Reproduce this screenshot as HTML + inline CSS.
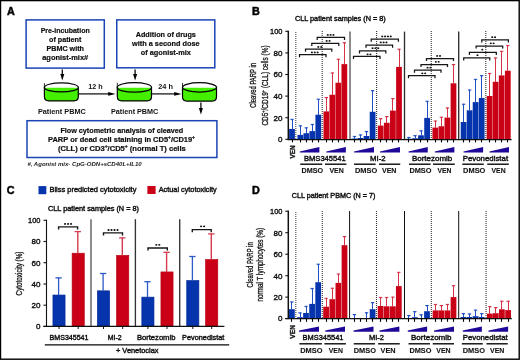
<!DOCTYPE html>
<html><head><meta charset="utf-8"><style>
html,body{margin:0;padding:0;background:#fff;}
svg{display:block;font-family:'Liberation Sans', sans-serif;will-change:transform;}
</style></head><body>
<svg width="520" height="360" viewBox="0 0 520 360">
<rect x="0" y="0" width="520" height="360" fill="#fff"/>
<text x="6.90" y="15.20" font-size="10.8" text-anchor="start" font-weight="bold" fill="#000" stroke="#000" stroke-width="0.45">A</text>
<rect x="26.1" y="19.9" width="78.20" height="48.20" fill="none" stroke="#1a44b4" stroke-width="1.5"/>
<rect x="116.75" y="19.9" width="98.05" height="47.90" fill="none" stroke="#1a44b4" stroke-width="1.5"/>
<rect x="27" y="120.7" width="189.90" height="36.80" fill="none" stroke="#1a44b4" stroke-width="1.5"/>
<text x="65.20" y="32.80" font-size="7.0" text-anchor="middle" font-weight="bold" fill="#111" textLength="49.00" lengthAdjust="spacingAndGlyphs" stroke="#111" stroke-width="0.2">Pre-incubation</text>
<text x="65.20" y="41.90" font-size="7.0" text-anchor="middle" font-weight="bold" fill="#111" textLength="32.20" lengthAdjust="spacingAndGlyphs" stroke="#111" stroke-width="0.2">of patient</text>
<text x="65.20" y="51.00" font-size="7.0" text-anchor="middle" font-weight="bold" fill="#111" textLength="37.50" lengthAdjust="spacingAndGlyphs" stroke="#111" stroke-width="0.2">PBMC with</text>
<text x="65.20" y="60.10" font-size="7.0" text-anchor="middle" font-weight="bold" fill="#111" textLength="46.00" lengthAdjust="spacingAndGlyphs" stroke="#111" stroke-width="0.2">agonist-mix#</text>
<text x="165.80" y="36.80" font-size="7.0" text-anchor="middle" font-weight="bold" fill="#111" textLength="60.20" lengthAdjust="spacingAndGlyphs" stroke="#111" stroke-width="0.2">Addition of drugs</text>
<text x="165.80" y="45.80" font-size="7.0" text-anchor="middle" font-weight="bold" fill="#111" textLength="67.50" lengthAdjust="spacingAndGlyphs" stroke="#111" stroke-width="0.2">with a second dose</text>
<text x="165.80" y="54.80" font-size="7.0" text-anchor="middle" font-weight="bold" fill="#111" textLength="50.10" lengthAdjust="spacingAndGlyphs" stroke="#111" stroke-width="0.2">of agonist-mix</text>
<text x="121.80" y="132.50" font-size="7.0" text-anchor="middle" font-weight="bold" fill="#111" textLength="122.80" lengthAdjust="spacingAndGlyphs" stroke="#111" stroke-width="0.2">Flow cytometric analysis of cleaved</text>
<text x="121.5" y="141.5" font-size="7" text-anchor="middle" font-weight="bold" fill="#111" stroke="#111" stroke-width="0.2" textLength="146.9" lengthAdjust="spacingAndGlyphs">PARP or dead cell staining in CD5<tspan font-size="4.6" dy="-2.6">+</tspan><tspan dy="2.6">/CD19</tspan><tspan font-size="4.6" dy="-2.6">+</tspan></text>
<text x="121.9" y="150.5" font-size="7" text-anchor="middle" font-weight="bold" fill="#111" stroke="#111" stroke-width="0.2" textLength="127.8" lengthAdjust="spacingAndGlyphs">(CLL) or CD3<tspan font-size="4.6" dy="-2.6">+</tspan><tspan dy="2.6">/CD5</tspan><tspan font-size="4.6" dy="-2.6">+</tspan><tspan dy="2.6"> (normal T) cells</tspan></text>
<text x="27.40" y="166.00" font-size="5.6" text-anchor="start" font-weight="bold" font-style="italic" fill="#1a1a1a" textLength="114.30" lengthAdjust="spacingAndGlyphs">#, Agonist mix- CpG-ODN+sCD40L+IL10</text>
<path d="M44.40,87.45 L44.40,96.60 Q44.40,100.90 48.70,100.90 L74.00,100.90 Q78.30,100.90 78.30,96.60 L78.30,87.45 Z" fill="#44f000" stroke="#000" stroke-width="1.2"/>
<ellipse cx="61.35" cy="87.45" rx="16.95" ry="4.55" fill="#fff" stroke="none"/>
<path d="M44.40,87.75 A16.95,4.55 0 0 0 78.30,87.75 Z" fill="#44f000"/>
<ellipse cx="61.35" cy="87.45" rx="16.95" ry="4.55" fill="none" stroke="#000" stroke-width="1.25"/>
<line x1="44.40" y1="83.10" x2="44.40" y2="87.45" stroke="#000" stroke-width="0.8"/>
<path d="M117.30,87.40 L117.30,96.60 Q117.30,100.90 121.60,100.90 L147.20,100.90 Q151.50,100.90 151.50,96.60 L151.50,87.40 Z" fill="#44f000" stroke="#000" stroke-width="1.2"/>
<ellipse cx="134.40" cy="87.40" rx="17.10" ry="4.80" fill="#fff" stroke="none"/>
<path d="M117.30,87.70 A17.10,4.80 0 0 0 151.50,87.70 Z" fill="#44f000"/>
<ellipse cx="134.40" cy="87.40" rx="17.10" ry="4.80" fill="none" stroke="#000" stroke-width="1.25"/>
<line x1="117.30" y1="82.80" x2="117.30" y2="87.40" stroke="#000" stroke-width="0.8"/>
<path d="M182.50,87.35 L182.50,96.80 Q182.50,101.10 186.80,101.10 L212.20,101.10 Q216.50,101.10 216.50,96.80 L216.50,87.35 Z" fill="#44f000" stroke="#000" stroke-width="1.2"/>
<ellipse cx="199.50" cy="87.35" rx="17.00" ry="4.65" fill="#fff" stroke="none"/>
<path d="M182.50,87.65 A17.00,4.65 0 0 0 216.50,87.65 Z" fill="#44f000"/>
<ellipse cx="199.50" cy="87.35" rx="17.00" ry="4.65" fill="none" stroke="#000" stroke-width="1.25"/>
<line x1="182.50" y1="82.90" x2="182.50" y2="87.35" stroke="#000" stroke-width="0.8"/>
<line x1="78.80" y1="93.90" x2="109.60" y2="93.90" stroke="#1a1a1a" stroke-width="1.3"/>
<path d="M108.20,92.00 L115.60,93.90 L108.20,95.80 Z" fill="#000"/>
<line x1="152.00" y1="93.90" x2="175.60" y2="93.90" stroke="#1a1a1a" stroke-width="1.3"/>
<path d="M174.20,92.00 L181.60,93.90 L174.20,95.80 Z" fill="#000"/>
<line x1="62.30" y1="69.40" x2="62.30" y2="76.60" stroke="#0a0a0a" stroke-width="1.3"/>
<path d="M60.30,74.00 L62.30,80.60 L64.30,74.00 Z" fill="#000"/>
<line x1="135.10" y1="69.40" x2="135.10" y2="76.60" stroke="#0a0a0a" stroke-width="1.3"/>
<path d="M133.10,74.00 L135.10,80.60 L137.10,74.00 Z" fill="#000"/>
<line x1="200.90" y1="102.50" x2="200.90" y2="110.60" stroke="#0a0a0a" stroke-width="1.3"/>
<path d="M198.90,108.00 L200.90,114.60 L202.90,108.00 Z" fill="#000"/>
<text x="88.30" y="88.90" font-size="6.9" text-anchor="start" font-weight="bold" fill="#111" textLength="14.40" lengthAdjust="spacingAndGlyphs">12 h</text>
<text x="158.20" y="88.90" font-size="6.9" text-anchor="start" font-weight="bold" fill="#111" textLength="14.80" lengthAdjust="spacingAndGlyphs">24 h</text>
<text x="37.90" y="114.40" font-size="7.2" text-anchor="start" font-weight="bold" fill="#111" textLength="47.90" lengthAdjust="spacingAndGlyphs">Patient PBMC</text>
<text x="111.00" y="114.40" font-size="7.2" text-anchor="start" font-weight="bold" fill="#111" textLength="47.30" lengthAdjust="spacingAndGlyphs">Patient PBMC</text>
<text x="251.90" y="15.40" font-size="10.8" text-anchor="start" font-weight="bold" fill="#000" stroke="#000" stroke-width="0.45">B</text>
<text x="294.90" y="20.90" font-size="6.6" text-anchor="start" fill="#111" textLength="90.90" lengthAdjust="spacingAndGlyphs" stroke="#111" stroke-width="0.38">CLL patient samples (N = 8)</text>
<text transform="translate(256.30,85.35) rotate(-90)" font-size="8.4" text-anchor="middle" fill="#111" textLength="44.60" lengthAdjust="spacingAndGlyphs" stroke="#111" stroke-width="0.3">Cleaved PARP in</text>
<text transform="translate(267.60,85.50) rotate(-90)" font-size="8.4" text-anchor="middle" fill="#111" textLength="80.20" lengthAdjust="spacingAndGlyphs" stroke="#111" stroke-width="0.3">CD5<tspan font-size="4.96" dy="-2.96">+</tspan><tspan dy="2.96">/CD19<tspan font-size="4.96" dy="-2.96">+</tspan><tspan dy="2.96"> (CLL) cells (%)</tspan></tspan></text>
<line x1="295.80" y1="32.00" x2="295.80" y2="139.00" stroke="#4a4a4a" stroke-width="1.1" stroke-dasharray="1 1"/>
<line x1="322.20" y1="31.00" x2="322.20" y2="139.00" stroke="#333" stroke-width="1.1" stroke-dasharray="1 1"/>
<line x1="376.60" y1="31.00" x2="376.60" y2="139.00" stroke="#333" stroke-width="1.1" stroke-dasharray="1 1"/>
<line x1="431.25" y1="31.00" x2="431.25" y2="139.00" stroke="#333" stroke-width="1.1" stroke-dasharray="1 1"/>
<line x1="485.80" y1="31.00" x2="485.80" y2="139.00" stroke="#333" stroke-width="1.1" stroke-dasharray="1 1"/>
<line x1="350.00" y1="31.60" x2="350.00" y2="139.30" stroke="#555" stroke-width="1.35"/>
<line x1="404.50" y1="31.60" x2="404.50" y2="139.30" stroke="#2e2e2e" stroke-width="1.35"/>
<line x1="458.70" y1="31.60" x2="458.70" y2="139.30" stroke="#2e2e2e" stroke-width="1.35"/>
<rect x="289.12" y="129.00" width="5.75" height="10.30" fill="#0534ad"/>
<line x1="292.50" y1="119.00" x2="292.50" y2="129.30" stroke="#2050c4" stroke-width="1.0"/>
<line x1="290.30" y1="119.30" x2="293.70" y2="119.30" stroke="#2050c4" stroke-width="1.0"/>
<path d="M290.70,119.70 L293.30,119.70 L292.50,120.80 Z" fill="#2050c4"/>
<rect x="297.43" y="134.90" width="5.75" height="4.40" fill="#0534ad"/>
<line x1="300.50" y1="125.50" x2="300.50" y2="135.20" stroke="#2050c4" stroke-width="1.0"/>
<line x1="298.60" y1="125.80" x2="302.00" y2="125.80" stroke="#2050c4" stroke-width="1.0"/>
<path d="M299.00,126.20 L301.60,126.20 L300.50,127.30 Z" fill="#2050c4"/>
<rect x="303.43" y="133.20" width="5.75" height="6.10" fill="#0534ad"/>
<line x1="306.50" y1="127.50" x2="306.50" y2="133.50" stroke="#2050c4" stroke-width="1.0"/>
<line x1="304.60" y1="127.80" x2="308.00" y2="127.80" stroke="#2050c4" stroke-width="1.0"/>
<path d="M305.00,128.20 L307.60,128.20 L306.50,129.30 Z" fill="#2050c4"/>
<rect x="309.43" y="131.10" width="5.75" height="8.20" fill="#0534ad"/>
<line x1="312.50" y1="124.10" x2="312.50" y2="131.40" stroke="#2050c4" stroke-width="1.0"/>
<line x1="310.60" y1="124.40" x2="314.00" y2="124.40" stroke="#2050c4" stroke-width="1.0"/>
<path d="M311.00,124.80 L313.60,124.80 L312.50,125.90 Z" fill="#2050c4"/>
<rect x="315.43" y="114.70" width="5.75" height="24.60" fill="#0534ad"/>
<line x1="318.50" y1="98.90" x2="318.50" y2="115.00" stroke="#2050c4" stroke-width="1.0"/>
<line x1="316.60" y1="99.20" x2="320.00" y2="99.20" stroke="#2050c4" stroke-width="1.0"/>
<path d="M317.00,99.60 L319.60,99.60 L318.50,100.70 Z" fill="#2050c4"/>
<rect x="351.62" y="138.50" width="5.75" height="0.80" fill="#0534ad"/>
<line x1="354.50" y1="136.10" x2="354.50" y2="138.80" stroke="#2050c4" stroke-width="1.0"/>
<line x1="352.80" y1="136.40" x2="356.20" y2="136.40" stroke="#2050c4" stroke-width="1.0"/>
<path d="M353.20,136.80 L355.80,136.80 L354.50,137.90 Z" fill="#2050c4"/>
<rect x="357.62" y="138.00" width="5.75" height="1.30" fill="#0534ad"/>
<line x1="360.50" y1="134.60" x2="360.50" y2="138.30" stroke="#2050c4" stroke-width="1.0"/>
<line x1="358.80" y1="134.90" x2="362.20" y2="134.90" stroke="#2050c4" stroke-width="1.0"/>
<path d="M359.20,135.30 L361.80,135.30 L360.50,136.40 Z" fill="#2050c4"/>
<rect x="363.62" y="136.00" width="5.75" height="3.30" fill="#0534ad"/>
<line x1="366.50" y1="131.20" x2="366.50" y2="136.30" stroke="#2050c4" stroke-width="1.0"/>
<line x1="364.80" y1="131.50" x2="368.20" y2="131.50" stroke="#2050c4" stroke-width="1.0"/>
<path d="M365.20,131.90 L367.80,131.90 L366.50,133.00 Z" fill="#2050c4"/>
<rect x="369.73" y="111.80" width="5.75" height="27.50" fill="#0534ad"/>
<line x1="372.50" y1="90.30" x2="372.50" y2="112.10" stroke="#2050c4" stroke-width="1.0"/>
<line x1="370.90" y1="90.60" x2="374.30" y2="90.60" stroke="#2050c4" stroke-width="1.0"/>
<path d="M371.30,91.00 L373.90,91.00 L372.50,92.10 Z" fill="#2050c4"/>
<rect x="406.02" y="138.75" width="5.75" height="0.55" fill="#0534ad"/>
<line x1="408.50" y1="137.10" x2="408.50" y2="139.05" stroke="#2050c4" stroke-width="1.0"/>
<line x1="407.20" y1="137.40" x2="410.60" y2="137.40" stroke="#2050c4" stroke-width="1.0"/>
<path d="M407.60,137.80 L410.20,137.80 L408.50,138.90 Z" fill="#2050c4"/>
<rect x="412.12" y="138.30" width="5.75" height="1.00" fill="#0534ad"/>
<line x1="415.50" y1="135.30" x2="415.50" y2="138.60" stroke="#2050c4" stroke-width="1.0"/>
<line x1="413.30" y1="135.60" x2="416.70" y2="135.60" stroke="#2050c4" stroke-width="1.0"/>
<path d="M413.70,136.00 L416.30,136.00 L415.50,137.10 Z" fill="#2050c4"/>
<rect x="418.12" y="135.30" width="5.75" height="4.00" fill="#0534ad"/>
<line x1="421.50" y1="130.50" x2="421.50" y2="135.60" stroke="#2050c4" stroke-width="1.0"/>
<line x1="419.30" y1="130.80" x2="422.70" y2="130.80" stroke="#2050c4" stroke-width="1.0"/>
<path d="M419.70,131.20 L422.30,131.20 L421.50,132.30 Z" fill="#2050c4"/>
<rect x="424.23" y="117.90" width="5.75" height="21.40" fill="#0534ad"/>
<line x1="427.50" y1="100.95" x2="427.50" y2="118.20" stroke="#2050c4" stroke-width="1.0"/>
<line x1="425.40" y1="101.25" x2="428.80" y2="101.25" stroke="#2050c4" stroke-width="1.0"/>
<path d="M425.80,101.65 L428.40,101.65 L427.50,102.75 Z" fill="#2050c4"/>
<rect x="460.73" y="122.00" width="5.75" height="17.30" fill="#0534ad"/>
<line x1="463.50" y1="103.90" x2="463.50" y2="122.30" stroke="#2050c4" stroke-width="1.0"/>
<line x1="461.90" y1="104.20" x2="465.30" y2="104.20" stroke="#2050c4" stroke-width="1.0"/>
<path d="M462.30,104.60 L464.90,104.60 L463.50,105.70 Z" fill="#2050c4"/>
<rect x="466.73" y="110.30" width="5.75" height="29.00" fill="#0534ad"/>
<line x1="469.50" y1="89.70" x2="469.50" y2="110.60" stroke="#2050c4" stroke-width="1.0"/>
<line x1="467.90" y1="90.00" x2="471.30" y2="90.00" stroke="#2050c4" stroke-width="1.0"/>
<path d="M468.30,90.40 L470.90,90.40 L469.50,91.50 Z" fill="#2050c4"/>
<rect x="472.73" y="102.10" width="5.75" height="37.20" fill="#0534ad"/>
<line x1="475.50" y1="79.00" x2="475.50" y2="102.40" stroke="#2050c4" stroke-width="1.0"/>
<line x1="473.90" y1="79.30" x2="477.30" y2="79.30" stroke="#2050c4" stroke-width="1.0"/>
<path d="M474.30,79.70 L476.90,79.70 L475.50,80.80 Z" fill="#2050c4"/>
<rect x="478.82" y="98.00" width="5.75" height="41.30" fill="#0534ad"/>
<line x1="481.50" y1="75.30" x2="481.50" y2="98.30" stroke="#2050c4" stroke-width="1.0"/>
<line x1="480.00" y1="75.60" x2="483.40" y2="75.60" stroke="#2050c4" stroke-width="1.0"/>
<path d="M480.40,76.00 L483.00,76.00 L481.50,77.10 Z" fill="#2050c4"/>
<rect x="323.48" y="111.40" width="5.75" height="27.90" fill="#c90016"/>
<line x1="326.50" y1="97.20" x2="326.50" y2="111.70" stroke="#d43446" stroke-width="1.0"/>
<line x1="324.65" y1="97.50" x2="328.05" y2="97.50" stroke="#d43446" stroke-width="1.0"/>
<path d="M325.05,97.90 L327.65,97.90 L326.50,99.00 Z" fill="#d43446"/>
<rect x="329.48" y="94.75" width="5.75" height="44.55" fill="#c90016"/>
<line x1="332.50" y1="72.60" x2="332.50" y2="95.05" stroke="#d43446" stroke-width="1.0"/>
<line x1="330.65" y1="72.90" x2="334.05" y2="72.90" stroke="#d43446" stroke-width="1.0"/>
<path d="M331.05,73.30 L333.65,73.30 L332.50,74.40 Z" fill="#d43446"/>
<rect x="335.48" y="82.75" width="5.75" height="56.55" fill="#c90016"/>
<line x1="338.50" y1="58.90" x2="338.50" y2="83.05" stroke="#d43446" stroke-width="1.0"/>
<line x1="336.65" y1="59.20" x2="340.05" y2="59.20" stroke="#d43446" stroke-width="1.0"/>
<path d="M337.05,59.60 L339.65,59.60 L338.50,60.70 Z" fill="#d43446"/>
<rect x="341.48" y="64.10" width="5.75" height="75.20" fill="#c90016"/>
<line x1="344.50" y1="42.40" x2="344.50" y2="64.40" stroke="#d43446" stroke-width="1.0"/>
<line x1="342.65" y1="42.70" x2="346.05" y2="42.70" stroke="#d43446" stroke-width="1.0"/>
<path d="M343.05,43.10 L345.65,43.10 L344.50,44.20 Z" fill="#d43446"/>
<rect x="377.82" y="125.60" width="5.75" height="13.70" fill="#c90016"/>
<line x1="380.50" y1="118.30" x2="380.50" y2="125.90" stroke="#d43446" stroke-width="1.0"/>
<line x1="379.00" y1="118.60" x2="382.40" y2="118.60" stroke="#d43446" stroke-width="1.0"/>
<path d="M379.40,119.00 L382.00,119.00 L380.50,120.10 Z" fill="#d43446"/>
<rect x="383.93" y="122.80" width="5.75" height="16.50" fill="#c90016"/>
<line x1="386.50" y1="116.20" x2="386.50" y2="123.10" stroke="#d43446" stroke-width="1.0"/>
<line x1="385.10" y1="116.50" x2="388.50" y2="116.50" stroke="#d43446" stroke-width="1.0"/>
<path d="M385.50,116.90 L388.10,116.90 L386.50,118.00 Z" fill="#d43446"/>
<rect x="390.02" y="110.60" width="5.75" height="28.70" fill="#c90016"/>
<line x1="392.50" y1="98.20" x2="392.50" y2="110.90" stroke="#d43446" stroke-width="1.0"/>
<line x1="391.20" y1="98.50" x2="394.60" y2="98.50" stroke="#d43446" stroke-width="1.0"/>
<path d="M391.60,98.90 L394.20,98.90 L392.50,100.00 Z" fill="#d43446"/>
<rect x="396.12" y="66.90" width="5.75" height="72.40" fill="#c90016"/>
<line x1="399.50" y1="48.90" x2="399.50" y2="67.20" stroke="#d43446" stroke-width="1.0"/>
<line x1="397.30" y1="49.20" x2="400.70" y2="49.20" stroke="#d43446" stroke-width="1.0"/>
<path d="M397.70,49.60 L400.30,49.60 L399.50,50.70 Z" fill="#d43446"/>
<rect x="432.43" y="127.60" width="5.75" height="11.70" fill="#c90016"/>
<line x1="435.50" y1="120.70" x2="435.50" y2="127.90" stroke="#d43446" stroke-width="1.0"/>
<line x1="433.60" y1="121.00" x2="437.00" y2="121.00" stroke="#d43446" stroke-width="1.0"/>
<path d="M434.00,121.40 L436.60,121.40 L435.50,122.50 Z" fill="#d43446"/>
<rect x="438.52" y="126.25" width="5.75" height="13.05" fill="#c90016"/>
<line x1="441.50" y1="116.90" x2="441.50" y2="126.55" stroke="#d43446" stroke-width="1.0"/>
<line x1="439.70" y1="117.20" x2="443.10" y2="117.20" stroke="#d43446" stroke-width="1.0"/>
<path d="M440.10,117.60 L442.70,117.60 L441.50,118.70 Z" fill="#d43446"/>
<rect x="444.52" y="117.60" width="5.75" height="21.70" fill="#c90016"/>
<line x1="447.50" y1="107.60" x2="447.50" y2="117.90" stroke="#d43446" stroke-width="1.0"/>
<line x1="445.70" y1="107.90" x2="449.10" y2="107.90" stroke="#d43446" stroke-width="1.0"/>
<path d="M446.10,108.30 L448.70,108.30 L447.50,109.40 Z" fill="#d43446"/>
<rect x="450.62" y="83.30" width="5.75" height="56.00" fill="#c90016"/>
<line x1="453.50" y1="64.20" x2="453.50" y2="83.60" stroke="#d43446" stroke-width="1.0"/>
<line x1="451.80" y1="64.50" x2="455.20" y2="64.50" stroke="#d43446" stroke-width="1.0"/>
<path d="M452.20,64.90 L454.80,64.90 L453.50,66.00 Z" fill="#d43446"/>
<rect x="486.73" y="96.00" width="5.75" height="43.30" fill="#c90016"/>
<line x1="489.50" y1="73.10" x2="489.50" y2="96.30" stroke="#d43446" stroke-width="1.0"/>
<line x1="487.90" y1="73.40" x2="491.30" y2="73.40" stroke="#d43446" stroke-width="1.0"/>
<path d="M488.30,73.80 L490.90,73.80 L489.50,74.90 Z" fill="#d43446"/>
<rect x="492.73" y="81.80" width="5.75" height="57.50" fill="#c90016"/>
<line x1="495.50" y1="57.60" x2="495.50" y2="82.10" stroke="#d43446" stroke-width="1.0"/>
<line x1="493.90" y1="57.90" x2="497.30" y2="57.90" stroke="#d43446" stroke-width="1.0"/>
<path d="M494.30,58.30 L496.90,58.30 L495.50,59.40 Z" fill="#d43446"/>
<rect x="498.82" y="75.40" width="5.75" height="63.90" fill="#c90016"/>
<line x1="501.50" y1="51.00" x2="501.50" y2="75.70" stroke="#d43446" stroke-width="1.0"/>
<line x1="500.00" y1="51.30" x2="503.40" y2="51.30" stroke="#d43446" stroke-width="1.0"/>
<path d="M500.40,51.70 L503.00,51.70 L501.50,52.80 Z" fill="#d43446"/>
<rect x="504.93" y="70.70" width="5.75" height="68.60" fill="#c90016"/>
<line x1="507.50" y1="45.10" x2="507.50" y2="71.00" stroke="#d43446" stroke-width="1.0"/>
<line x1="506.10" y1="45.40" x2="509.50" y2="45.40" stroke="#d43446" stroke-width="1.0"/>
<path d="M506.50,45.80 L509.10,45.80 L507.50,46.90 Z" fill="#d43446"/>
<line x1="288.30" y1="30.70" x2="288.30" y2="139.90" stroke="#111" stroke-width="1.5"/>
<line x1="285.30" y1="31.30" x2="288.30" y2="31.30" stroke="#111" stroke-width="1.1"/>
<text x="282.40" y="34.16" font-size="8.0" text-anchor="end" fill="#111" textLength="12.40" lengthAdjust="spacingAndGlyphs" stroke="#111" stroke-width="0.38">100</text>
<line x1="285.30" y1="52.90" x2="288.30" y2="52.90" stroke="#111" stroke-width="1.1"/>
<text x="282.40" y="55.76" font-size="8.0" text-anchor="end" fill="#111" stroke="#111" stroke-width="0.38">80</text>
<line x1="285.30" y1="74.50" x2="288.30" y2="74.50" stroke="#111" stroke-width="1.1"/>
<text x="282.40" y="77.36" font-size="8.0" text-anchor="end" fill="#111" stroke="#111" stroke-width="0.38">60</text>
<line x1="285.30" y1="96.10" x2="288.30" y2="96.10" stroke="#111" stroke-width="1.1"/>
<text x="282.40" y="98.96" font-size="8.0" text-anchor="end" fill="#111" stroke="#111" stroke-width="0.38">40</text>
<line x1="285.30" y1="117.70" x2="288.30" y2="117.70" stroke="#111" stroke-width="1.1"/>
<text x="282.40" y="120.56" font-size="8.0" text-anchor="end" fill="#111" stroke="#111" stroke-width="0.38">20</text>
<line x1="285.30" y1="139.30" x2="288.30" y2="139.30" stroke="#111" stroke-width="1.1"/>
<text x="282.40" y="142.16" font-size="8.0" text-anchor="end" fill="#111" stroke="#111" stroke-width="0.38">0</text>
<line x1="287.40" y1="139.70" x2="511.60" y2="139.70" stroke="#111" stroke-width="1.3"/>
<line x1="292.50" y1="139.70" x2="292.50" y2="142.40" stroke="#000" stroke-width="1.1"/>
<line x1="300.50" y1="139.70" x2="300.50" y2="142.40" stroke="#000" stroke-width="1.1"/>
<line x1="306.50" y1="139.70" x2="306.50" y2="142.40" stroke="#000" stroke-width="1.1"/>
<line x1="312.50" y1="139.70" x2="312.50" y2="142.40" stroke="#000" stroke-width="1.1"/>
<line x1="318.50" y1="139.70" x2="318.50" y2="142.40" stroke="#000" stroke-width="1.1"/>
<line x1="354.50" y1="139.70" x2="354.50" y2="142.40" stroke="#000" stroke-width="1.1"/>
<line x1="360.50" y1="139.70" x2="360.50" y2="142.40" stroke="#000" stroke-width="1.1"/>
<line x1="366.50" y1="139.70" x2="366.50" y2="142.40" stroke="#000" stroke-width="1.1"/>
<line x1="372.50" y1="139.70" x2="372.50" y2="142.40" stroke="#000" stroke-width="1.1"/>
<line x1="408.50" y1="139.70" x2="408.50" y2="142.40" stroke="#000" stroke-width="1.1"/>
<line x1="414.50" y1="139.70" x2="414.50" y2="142.40" stroke="#000" stroke-width="1.1"/>
<line x1="420.50" y1="139.70" x2="420.50" y2="142.40" stroke="#000" stroke-width="1.1"/>
<line x1="427.50" y1="139.70" x2="427.50" y2="142.40" stroke="#000" stroke-width="1.1"/>
<line x1="463.50" y1="139.70" x2="463.50" y2="142.40" stroke="#000" stroke-width="1.1"/>
<line x1="469.50" y1="139.70" x2="469.50" y2="142.40" stroke="#000" stroke-width="1.1"/>
<line x1="475.50" y1="139.70" x2="475.50" y2="142.40" stroke="#000" stroke-width="1.1"/>
<line x1="481.50" y1="139.70" x2="481.50" y2="142.40" stroke="#000" stroke-width="1.1"/>
<line x1="326.50" y1="139.70" x2="326.50" y2="142.40" stroke="#000" stroke-width="1.1"/>
<line x1="332.50" y1="139.70" x2="332.50" y2="142.40" stroke="#000" stroke-width="1.1"/>
<line x1="338.50" y1="139.70" x2="338.50" y2="142.40" stroke="#000" stroke-width="1.1"/>
<line x1="344.50" y1="139.70" x2="344.50" y2="142.40" stroke="#000" stroke-width="1.1"/>
<line x1="380.50" y1="139.70" x2="380.50" y2="142.40" stroke="#000" stroke-width="1.1"/>
<line x1="386.50" y1="139.70" x2="386.50" y2="142.40" stroke="#000" stroke-width="1.1"/>
<line x1="392.50" y1="139.70" x2="392.50" y2="142.40" stroke="#000" stroke-width="1.1"/>
<line x1="398.50" y1="139.70" x2="398.50" y2="142.40" stroke="#000" stroke-width="1.1"/>
<line x1="435.50" y1="139.70" x2="435.50" y2="142.40" stroke="#000" stroke-width="1.1"/>
<line x1="441.50" y1="139.70" x2="441.50" y2="142.40" stroke="#000" stroke-width="1.1"/>
<line x1="447.50" y1="139.70" x2="447.50" y2="142.40" stroke="#000" stroke-width="1.1"/>
<line x1="453.50" y1="139.70" x2="453.50" y2="142.40" stroke="#000" stroke-width="1.1"/>
<line x1="489.50" y1="139.70" x2="489.50" y2="142.40" stroke="#000" stroke-width="1.1"/>
<line x1="495.50" y1="139.70" x2="495.50" y2="142.40" stroke="#000" stroke-width="1.1"/>
<line x1="501.50" y1="139.70" x2="501.50" y2="142.40" stroke="#000" stroke-width="1.1"/>
<line x1="507.50" y1="139.70" x2="507.50" y2="142.40" stroke="#000" stroke-width="1.1"/>
<path d="M299.50,57.20 L299.50,54.60 L326.00,54.60 L326.00,57.20" fill="none" stroke="#161616" stroke-width="1.25"/>
<ellipse cx="311.90" cy="52.40" rx="1.05" ry="0.88" fill="#111"/>
<ellipse cx="314.75" cy="52.40" rx="1.05" ry="0.88" fill="#111"/>
<ellipse cx="317.60" cy="52.40" rx="1.05" ry="0.88" fill="#111"/>
<path d="M305.50,51.70 L305.50,49.10 L331.80,49.10 L331.80,51.70" fill="none" stroke="#161616" stroke-width="1.25"/>
<ellipse cx="318.32" cy="46.90" rx="1.05" ry="0.88" fill="#111"/>
<ellipse cx="321.18" cy="46.90" rx="1.05" ry="0.88" fill="#111"/>
<path d="M311.80,45.90 L311.80,43.30 L338.80,43.30 L338.80,45.90" fill="none" stroke="#161616" stroke-width="1.25"/>
<ellipse cx="326.68" cy="40.90" rx="1.05" ry="0.88" fill="#111"/>
<ellipse cx="329.53" cy="40.90" rx="1.05" ry="0.88" fill="#111"/>
<path d="M317.20,39.90 L317.20,37.30 L344.50,37.30 L344.50,39.90" fill="none" stroke="#161616" stroke-width="1.25"/>
<ellipse cx="327.75" cy="34.90" rx="1.05" ry="0.88" fill="#111"/>
<ellipse cx="330.60" cy="34.90" rx="1.05" ry="0.88" fill="#111"/>
<ellipse cx="333.45" cy="34.90" rx="1.05" ry="0.88" fill="#111"/>
<path d="M353.50,58.90 L353.50,56.30 L380.00,56.30 L380.00,58.90" fill="none" stroke="#161616" stroke-width="1.25"/>
<ellipse cx="367.57" cy="54.30" rx="1.05" ry="0.88" fill="#111"/>
<ellipse cx="370.43" cy="54.30" rx="1.05" ry="0.88" fill="#111"/>
<path d="M359.50,53.40 L359.50,50.80 L385.80,50.80 L385.80,53.40" fill="none" stroke="#161616" stroke-width="1.25"/>
<ellipse cx="372.55" cy="48.20" rx="1.05" ry="0.88" fill="#111"/>
<ellipse cx="375.40" cy="48.20" rx="1.05" ry="0.88" fill="#111"/>
<ellipse cx="378.25" cy="48.20" rx="1.05" ry="0.88" fill="#111"/>
<path d="M366.00,47.70 L366.00,45.10 L392.60,45.10 L392.60,47.70" fill="none" stroke="#161616" stroke-width="1.25"/>
<ellipse cx="380.75" cy="42.40" rx="1.05" ry="0.88" fill="#111"/>
<ellipse cx="383.60" cy="42.40" rx="1.05" ry="0.88" fill="#111"/>
<ellipse cx="386.45" cy="42.40" rx="1.05" ry="0.88" fill="#111"/>
<path d="M371.20,41.70 L371.20,39.10 L398.40,39.10 L398.40,41.70" fill="none" stroke="#161616" stroke-width="1.25"/>
<ellipse cx="382.23" cy="36.40" rx="1.05" ry="0.88" fill="#111"/>
<ellipse cx="385.07" cy="36.40" rx="1.05" ry="0.88" fill="#111"/>
<ellipse cx="387.93" cy="36.40" rx="1.05" ry="0.88" fill="#111"/>
<ellipse cx="390.77" cy="36.40" rx="1.05" ry="0.88" fill="#111"/>
<path d="M408.50,78.30 L408.50,75.70 L435.00,75.70 L435.00,78.30" fill="none" stroke="#161616" stroke-width="1.25"/>
<ellipse cx="422.32" cy="73.30" rx="1.05" ry="0.88" fill="#111"/>
<ellipse cx="425.18" cy="73.30" rx="1.05" ry="0.88" fill="#111"/>
<path d="M414.50,72.80 L414.50,70.20 L441.00,70.20 L441.00,72.80" fill="none" stroke="#161616" stroke-width="1.25"/>
<ellipse cx="427.57" cy="67.70" rx="1.05" ry="0.88" fill="#111"/>
<ellipse cx="430.43" cy="67.70" rx="1.05" ry="0.88" fill="#111"/>
<path d="M421.00,67.10 L421.00,64.50 L447.50,64.50 L447.50,67.10" fill="none" stroke="#161616" stroke-width="1.25"/>
<ellipse cx="435.82" cy="61.80" rx="1.05" ry="0.88" fill="#111"/>
<ellipse cx="438.68" cy="61.80" rx="1.05" ry="0.88" fill="#111"/>
<path d="M426.50,61.10 L426.50,58.50 L453.50,58.50 L453.50,61.10" fill="none" stroke="#161616" stroke-width="1.25"/>
<ellipse cx="437.18" cy="55.90" rx="1.05" ry="0.88" fill="#111"/>
<ellipse cx="440.03" cy="55.90" rx="1.05" ry="0.88" fill="#111"/>
<path d="M463.70,60.50 L463.70,57.90 L489.80,57.90 L489.80,60.50" fill="none" stroke="#161616" stroke-width="1.25"/>
<ellipse cx="477.50" cy="55.20" rx="1.05" ry="0.88" fill="#111"/>
<path d="M469.40,54.90 L469.40,52.30 L496.30,52.30 L496.30,54.90" fill="none" stroke="#161616" stroke-width="1.25"/>
<ellipse cx="482.30" cy="49.60" rx="1.05" ry="0.88" fill="#111"/>
<path d="M476.10,48.60 L476.10,46.00 L502.70,46.00 L502.70,48.60" fill="none" stroke="#161616" stroke-width="1.25"/>
<ellipse cx="490.77" cy="43.30" rx="1.05" ry="0.88" fill="#111"/>
<ellipse cx="493.62" cy="43.30" rx="1.05" ry="0.88" fill="#111"/>
<path d="M481.80,42.40 L481.80,39.80 L508.40,39.80 L508.40,42.40" fill="none" stroke="#161616" stroke-width="1.25"/>
<ellipse cx="492.22" cy="37.20" rx="1.05" ry="0.88" fill="#111"/>
<ellipse cx="495.07" cy="37.20" rx="1.05" ry="0.88" fill="#111"/>
<text transform="translate(295.00,152.00) rotate(-90)" font-size="7.0" text-anchor="middle" font-weight="bold" fill="#111" textLength="13.10" lengthAdjust="spacingAndGlyphs" stroke="#111" stroke-width="0.3">VEN</text>
<path d="M299.75,152.60 L299.75,151.40 L319.40,147.00 L319.40,152.60 Z" fill="#1f0898"/>
<path d="M326.25,152.60 L326.25,151.40 L345.90,147.00 L345.90,152.60 Z" fill="#1f0898"/>
<path d="M354.00,152.60 L354.00,151.40 L374.00,147.00 L374.00,152.60 Z" fill="#1f0898"/>
<path d="M380.00,152.60 L380.00,151.40 L400.00,147.00 L400.00,152.60 Z" fill="#1f0898"/>
<path d="M408.50,152.60 L408.50,151.40 L427.75,147.00 L427.75,152.60 Z" fill="#1f0898"/>
<path d="M434.75,152.60 L434.75,151.40 L454.40,147.00 L454.40,152.60 Z" fill="#1f0898"/>
<path d="M463.50,152.60 L463.50,151.40 L483.10,147.00 L483.10,152.60 Z" fill="#1f0898"/>
<path d="M489.40,152.60 L489.40,151.40 L509.00,147.00 L509.00,152.60 Z" fill="#1f0898"/>
<text x="304.00" y="160.90" font-size="7.0" text-anchor="start" fill="#111" textLength="41.60" lengthAdjust="spacingAndGlyphs" stroke="#111" stroke-width="0.38">BMS345541</text>
<text x="370.00" y="160.90" font-size="7.0" text-anchor="start" fill="#111" textLength="15.60" lengthAdjust="spacingAndGlyphs" stroke="#111" stroke-width="0.38">MI-2</text>
<text x="411.90" y="160.90" font-size="7.0" text-anchor="start" fill="#111" textLength="40.35" lengthAdjust="spacingAndGlyphs" stroke="#111" stroke-width="0.38">Bortezomib</text>
<text x="462.75" y="160.90" font-size="7.0" text-anchor="start" fill="#111" textLength="45.35" lengthAdjust="spacingAndGlyphs" stroke="#111" stroke-width="0.38">Pevonedistat</text>
<line x1="300.25" y1="164.20" x2="322.25" y2="164.20" stroke="#080808" stroke-width="1.4"/>
<line x1="325.00" y1="164.20" x2="346.50" y2="164.20" stroke="#080808" stroke-width="1.4"/>
<line x1="354.00" y1="164.20" x2="375.60" y2="164.20" stroke="#080808" stroke-width="1.4"/>
<line x1="379.00" y1="164.20" x2="400.25" y2="164.20" stroke="#080808" stroke-width="1.4"/>
<line x1="409.00" y1="164.20" x2="430.60" y2="164.20" stroke="#080808" stroke-width="1.4"/>
<line x1="433.00" y1="164.20" x2="454.75" y2="164.20" stroke="#080808" stroke-width="1.4"/>
<line x1="462.25" y1="164.20" x2="483.75" y2="164.20" stroke="#080808" stroke-width="1.4"/>
<line x1="487.25" y1="164.20" x2="508.75" y2="164.20" stroke="#080808" stroke-width="1.4"/>
<text x="301.50" y="173.30" font-size="7.5" text-anchor="start" font-weight="bold" fill="#111" textLength="21.60" lengthAdjust="spacingAndGlyphs" stroke="#111" stroke-width="0.1">DMSO</text>
<text x="329.40" y="173.30" font-size="7.5" text-anchor="start" font-weight="bold" fill="#111" textLength="14.35" lengthAdjust="spacingAndGlyphs" stroke="#111" stroke-width="0.1">VEN</text>
<text x="355.00" y="173.30" font-size="7.5" text-anchor="start" font-weight="bold" fill="#111" textLength="22.25" lengthAdjust="spacingAndGlyphs" stroke="#111" stroke-width="0.1">DMSO</text>
<text x="381.90" y="173.30" font-size="7.5" text-anchor="start" font-weight="bold" fill="#111" textLength="14.60" lengthAdjust="spacingAndGlyphs" stroke="#111" stroke-width="0.1">VEN</text>
<text x="409.40" y="173.30" font-size="7.5" text-anchor="start" font-weight="bold" fill="#111" textLength="22.10" lengthAdjust="spacingAndGlyphs" stroke="#111" stroke-width="0.1">DMSO</text>
<text x="437.50" y="173.30" font-size="7.5" text-anchor="start" font-weight="bold" fill="#111" textLength="14.00" lengthAdjust="spacingAndGlyphs" stroke="#111" stroke-width="0.1">VEN</text>
<text x="463.10" y="173.30" font-size="7.5" text-anchor="start" font-weight="bold" fill="#111" textLength="22.30" lengthAdjust="spacingAndGlyphs" stroke="#111" stroke-width="0.1">DMSO</text>
<text x="491.50" y="173.30" font-size="7.5" text-anchor="start" font-weight="bold" fill="#111" textLength="14.10" lengthAdjust="spacingAndGlyphs" stroke="#111" stroke-width="0.1">VEN</text>
<text x="6.80" y="193.90" font-size="10.8" text-anchor="start" font-weight="bold" fill="#000" stroke="#000" stroke-width="0.45">C</text>
<rect x="38.50" y="186.10" width="7.80" height="8.10" fill="#0534ad"/>
<rect x="147.40" y="186.00" width="8.20" height="8.00" fill="#c90016"/>
<text x="49.50" y="192.20" font-size="6.8" text-anchor="start" fill="#111" textLength="86.90" lengthAdjust="spacingAndGlyphs" stroke="#111" stroke-width="0.38">Bliss predicted cytotoxicity</text>
<text x="158.70" y="192.20" font-size="6.8" text-anchor="start" fill="#111" textLength="58.10" lengthAdjust="spacingAndGlyphs" stroke="#111" stroke-width="0.38">Actual cytotoxicity</text>
<text x="48.00" y="211.20" font-size="6.6" text-anchor="start" fill="#111" textLength="91.00" lengthAdjust="spacingAndGlyphs" stroke="#111" stroke-width="0.38">CLL patient samples (N = 8)</text>
<text transform="translate(21.80,273.50) rotate(-90)" font-size="8.4" text-anchor="middle" fill="#111" textLength="43.80" lengthAdjust="spacingAndGlyphs" stroke="#111" stroke-width="0.3">Cytotoxicity (%)</text>
<line x1="91.00" y1="219.20" x2="91.00" y2="326.00" stroke="#555" stroke-width="1.35"/>
<line x1="135.40" y1="219.20" x2="135.40" y2="326.00" stroke="#333" stroke-width="1.35"/>
<line x1="179.70" y1="219.20" x2="179.70" y2="326.00" stroke="#333" stroke-width="1.35"/>
<rect x="52.95" y="295.05" width="12.10" height="30.95" fill="#0534ad" stroke="#032a98" stroke-width="0.7"/>
<line x1="58.60" y1="277.60" x2="58.60" y2="295.00" stroke="#2c5ac8" stroke-width="1.3"/>
<line x1="55.45" y1="277.90" x2="61.75" y2="277.90" stroke="#2c5ac8" stroke-width="1.3"/>
<rect x="97.45" y="290.85" width="12.10" height="35.15" fill="#0534ad" stroke="#032a98" stroke-width="0.7"/>
<line x1="103.10" y1="273.20" x2="103.10" y2="290.80" stroke="#2c5ac8" stroke-width="1.3"/>
<line x1="99.95" y1="273.50" x2="106.25" y2="273.50" stroke="#2c5ac8" stroke-width="1.3"/>
<rect x="141.85" y="297.15" width="12.10" height="28.85" fill="#0534ad" stroke="#032a98" stroke-width="0.7"/>
<line x1="147.50" y1="281.40" x2="147.50" y2="297.10" stroke="#2c5ac8" stroke-width="1.3"/>
<line x1="144.35" y1="281.70" x2="150.65" y2="281.70" stroke="#2c5ac8" stroke-width="1.3"/>
<rect x="186.75" y="280.65" width="12.10" height="45.35" fill="#0534ad" stroke="#032a98" stroke-width="0.7"/>
<line x1="192.40" y1="256.20" x2="192.40" y2="280.60" stroke="#2c5ac8" stroke-width="1.3"/>
<line x1="189.25" y1="256.50" x2="195.55" y2="256.50" stroke="#2c5ac8" stroke-width="1.3"/>
<rect x="72.15" y="253.25" width="12.10" height="72.75" fill="#c90016" stroke="#b8000f" stroke-width="0.7"/>
<line x1="77.80" y1="231.30" x2="77.80" y2="253.20" stroke="#d63a4c" stroke-width="1.4"/>
<line x1="74.65" y1="231.60" x2="80.95" y2="231.60" stroke="#d63a4c" stroke-width="1.3"/>
<rect x="116.65" y="255.45" width="12.10" height="70.55" fill="#c90016" stroke="#b8000f" stroke-width="0.7"/>
<line x1="122.30" y1="237.60" x2="122.30" y2="255.40" stroke="#d63a4c" stroke-width="1.4"/>
<line x1="119.15" y1="237.90" x2="125.45" y2="237.90" stroke="#d63a4c" stroke-width="1.3"/>
<rect x="160.95" y="271.95" width="12.10" height="54.05" fill="#c90016" stroke="#b8000f" stroke-width="0.7"/>
<line x1="166.60" y1="252.00" x2="166.60" y2="271.90" stroke="#d63a4c" stroke-width="1.4"/>
<line x1="163.45" y1="252.30" x2="169.75" y2="252.30" stroke="#d63a4c" stroke-width="1.3"/>
<rect x="205.65" y="259.65" width="12.10" height="66.35" fill="#c90016" stroke="#b8000f" stroke-width="0.7"/>
<line x1="211.30" y1="233.60" x2="211.30" y2="259.60" stroke="#d63a4c" stroke-width="1.4"/>
<line x1="208.15" y1="233.90" x2="214.45" y2="233.90" stroke="#d63a4c" stroke-width="1.3"/>
<line x1="46.50" y1="219.70" x2="46.50" y2="327.00" stroke="#111" stroke-width="1.1"/>
<line x1="43.50" y1="220.30" x2="46.50" y2="220.30" stroke="#111" stroke-width="1.1"/>
<text x="40.40" y="223.16" font-size="8.0" text-anchor="end" fill="#111" textLength="12.40" lengthAdjust="spacingAndGlyphs" stroke="#111" stroke-width="0.38">100</text>
<line x1="43.50" y1="241.50" x2="46.50" y2="241.50" stroke="#111" stroke-width="1.1"/>
<text x="40.40" y="244.36" font-size="8.0" text-anchor="end" fill="#111" stroke="#111" stroke-width="0.38">80</text>
<line x1="43.50" y1="262.70" x2="46.50" y2="262.70" stroke="#111" stroke-width="1.1"/>
<text x="40.40" y="265.56" font-size="8.0" text-anchor="end" fill="#111" stroke="#111" stroke-width="0.38">60</text>
<line x1="43.50" y1="284.00" x2="46.50" y2="284.00" stroke="#111" stroke-width="1.1"/>
<text x="40.40" y="286.86" font-size="8.0" text-anchor="end" fill="#111" stroke="#111" stroke-width="0.38">40</text>
<line x1="43.50" y1="305.20" x2="46.50" y2="305.20" stroke="#111" stroke-width="1.1"/>
<text x="40.40" y="308.06" font-size="8.0" text-anchor="end" fill="#111" stroke="#111" stroke-width="0.38">20</text>
<line x1="43.50" y1="326.40" x2="46.50" y2="326.40" stroke="#111" stroke-width="1.1"/>
<text x="40.40" y="329.26" font-size="8.0" text-anchor="end" fill="#111" stroke="#111" stroke-width="0.38">0</text>
<line x1="43.30" y1="326.40" x2="224.40" y2="326.40" stroke="#111" stroke-width="1.2"/>
<line x1="59.00" y1="326.40" x2="59.00" y2="329.00" stroke="#111" stroke-width="1.0"/>
<line x1="103.50" y1="326.40" x2="103.50" y2="329.00" stroke="#111" stroke-width="1.0"/>
<line x1="147.90" y1="326.40" x2="147.90" y2="329.00" stroke="#111" stroke-width="1.0"/>
<line x1="192.80" y1="326.40" x2="192.80" y2="329.00" stroke="#111" stroke-width="1.0"/>
<line x1="78.20" y1="326.40" x2="78.20" y2="329.00" stroke="#111" stroke-width="1.0"/>
<line x1="122.70" y1="326.40" x2="122.70" y2="329.00" stroke="#111" stroke-width="1.0"/>
<line x1="167.00" y1="326.40" x2="167.00" y2="329.00" stroke="#111" stroke-width="1.0"/>
<line x1="211.70" y1="326.40" x2="211.70" y2="329.00" stroke="#111" stroke-width="1.0"/>
<path d="M58.60,229.50 L58.60,226.90 L77.60,226.90 L77.60,229.50" fill="none" stroke="#161616" stroke-width="1.4"/>
<ellipse cx="65.10" cy="223.90" rx="1.1" ry="0.9" fill="#111"/>
<ellipse cx="68.10" cy="223.90" rx="1.1" ry="0.9" fill="#111"/>
<ellipse cx="71.10" cy="223.90" rx="1.1" ry="0.9" fill="#111"/>
<path d="M103.50,235.45 L103.50,232.85 L122.50,232.85 L122.50,235.45" fill="none" stroke="#161616" stroke-width="1.4"/>
<ellipse cx="108.50" cy="230.00" rx="1.1" ry="0.9" fill="#111"/>
<ellipse cx="111.50" cy="230.00" rx="1.1" ry="0.9" fill="#111"/>
<ellipse cx="114.50" cy="230.00" rx="1.1" ry="0.9" fill="#111"/>
<ellipse cx="117.50" cy="230.00" rx="1.1" ry="0.9" fill="#111"/>
<path d="M148.00,250.60 L148.00,248.00 L167.30,248.00 L167.30,250.60" fill="none" stroke="#161616" stroke-width="1.4"/>
<ellipse cx="156.30" cy="244.80" rx="1.1" ry="0.9" fill="#111"/>
<ellipse cx="159.30" cy="244.80" rx="1.1" ry="0.9" fill="#111"/>
<path d="M192.30,232.20 L192.30,229.60 L211.20,229.60 L211.20,232.20" fill="none" stroke="#161616" stroke-width="1.4"/>
<ellipse cx="201.10" cy="226.30" rx="1.1" ry="0.9" fill="#111"/>
<ellipse cx="204.10" cy="226.30" rx="1.1" ry="0.9" fill="#111"/>
<text x="49.60" y="339.50" font-size="6.8" text-anchor="start" fill="#111" textLength="38.90" lengthAdjust="spacingAndGlyphs" stroke="#111" stroke-width="0.38">BMS345541</text>
<text x="107.70" y="339.50" font-size="6.8" text-anchor="start" fill="#111" textLength="14.00" lengthAdjust="spacingAndGlyphs" stroke="#111" stroke-width="0.38">MI-2</text>
<text x="136.90" y="339.50" font-size="6.8" text-anchor="start" fill="#111" textLength="38.50" lengthAdjust="spacingAndGlyphs" stroke="#111" stroke-width="0.38">Bortezomib</text>
<text x="182.10" y="339.50" font-size="6.8" text-anchor="start" fill="#111" textLength="42.30" lengthAdjust="spacingAndGlyphs" stroke="#111" stroke-width="0.38">Pevonedistat</text>
<line x1="44.80" y1="344.90" x2="229.20" y2="344.90" stroke="#080808" stroke-width="1.3"/>
<text x="116.00" y="353.20" font-size="6.8" text-anchor="start" fill="#111" textLength="42.50" lengthAdjust="spacingAndGlyphs" stroke="#111" stroke-width="0.38">+ Venetoclax</text>
<text x="251.90" y="193.70" font-size="10.8" text-anchor="start" font-weight="bold" fill="#000" stroke="#000" stroke-width="0.45">D</text>
<text x="291.80" y="197.70" font-size="6.6" text-anchor="start" fill="#111" textLength="83.60" lengthAdjust="spacingAndGlyphs" stroke="#111" stroke-width="0.38">CLL patient PBMC (N = 7)</text>
<text transform="translate(252.60,264.85) rotate(-90)" font-size="8.4" text-anchor="middle" fill="#111" textLength="45.10" lengthAdjust="spacingAndGlyphs" stroke="#111" stroke-width="0.3">Cleaved PARP in</text>
<text transform="translate(263.40,264.75) rotate(-90)" font-size="8.4" text-anchor="middle" fill="#111" textLength="73.70" lengthAdjust="spacingAndGlyphs" stroke="#111" stroke-width="0.3">normal T lymphocytes (%)</text>
<line x1="295.80" y1="212.00" x2="295.80" y2="318.00" stroke="#4a4a4a" stroke-width="1.1" stroke-dasharray="1 1"/>
<line x1="322.30" y1="211.00" x2="322.30" y2="318.00" stroke="#333" stroke-width="1.1" stroke-dasharray="1 1"/>
<line x1="376.50" y1="211.00" x2="376.50" y2="318.00" stroke="#333" stroke-width="1.1" stroke-dasharray="1 1"/>
<line x1="431.30" y1="211.00" x2="431.30" y2="318.00" stroke="#333" stroke-width="1.1" stroke-dasharray="1 1"/>
<line x1="486.10" y1="211.00" x2="486.10" y2="318.00" stroke="#333" stroke-width="1.1" stroke-dasharray="1 1"/>
<line x1="349.60" y1="211.00" x2="349.60" y2="318.00" stroke="#111" stroke-width="1.0"/>
<line x1="404.50" y1="211.00" x2="404.50" y2="318.00" stroke="#111" stroke-width="1.0"/>
<line x1="458.70" y1="211.00" x2="458.70" y2="318.00" stroke="#111" stroke-width="1.0"/>
<rect x="289.02" y="309.20" width="5.75" height="8.80" fill="#0534ad"/>
<line x1="291.50" y1="301.60" x2="291.50" y2="309.50" stroke="#2050c4" stroke-width="1.0"/>
<line x1="290.20" y1="301.90" x2="293.60" y2="301.90" stroke="#2050c4" stroke-width="1.0"/>
<path d="M290.60,302.30 L293.20,302.30 L291.50,303.40 Z" fill="#2050c4"/>
<rect x="297.12" y="317.20" width="5.75" height="0.80" fill="#0534ad"/>
<line x1="300.50" y1="312.50" x2="300.50" y2="317.50" stroke="#2050c4" stroke-width="1.0"/>
<line x1="298.30" y1="312.80" x2="301.70" y2="312.80" stroke="#2050c4" stroke-width="1.0"/>
<path d="M298.70,313.20 L301.30,313.20 L300.50,314.30 Z" fill="#2050c4"/>
<rect x="303.12" y="313.00" width="5.75" height="5.00" fill="#0534ad"/>
<line x1="306.50" y1="306.00" x2="306.50" y2="313.30" stroke="#2050c4" stroke-width="1.0"/>
<line x1="304.30" y1="306.30" x2="307.70" y2="306.30" stroke="#2050c4" stroke-width="1.0"/>
<path d="M304.70,306.70 L307.30,306.70 L306.50,307.80 Z" fill="#2050c4"/>
<rect x="309.23" y="303.90" width="5.75" height="14.10" fill="#0534ad"/>
<line x1="312.50" y1="288.10" x2="312.50" y2="304.20" stroke="#2050c4" stroke-width="1.0"/>
<line x1="310.40" y1="288.40" x2="313.80" y2="288.40" stroke="#2050c4" stroke-width="1.0"/>
<path d="M310.80,288.80 L313.40,288.80 L312.50,289.90 Z" fill="#2050c4"/>
<rect x="315.32" y="282.20" width="5.75" height="35.80" fill="#0534ad"/>
<line x1="318.50" y1="263.90" x2="318.50" y2="282.50" stroke="#2050c4" stroke-width="1.0"/>
<line x1="316.50" y1="264.20" x2="319.90" y2="264.20" stroke="#2050c4" stroke-width="1.0"/>
<path d="M316.90,264.60 L319.50,264.60 L318.50,265.70 Z" fill="#2050c4"/>
<line x1="354.50" y1="314.20" x2="354.50" y2="318.30" stroke="#2050c4" stroke-width="1.0"/>
<line x1="352.70" y1="314.50" x2="356.10" y2="314.50" stroke="#2050c4" stroke-width="1.0"/>
<path d="M353.10,314.90 L355.70,314.90 L354.50,316.00 Z" fill="#2050c4"/>
<line x1="366.50" y1="312.40" x2="366.50" y2="318.30" stroke="#2050c4" stroke-width="1.0"/>
<line x1="364.80" y1="312.70" x2="368.20" y2="312.70" stroke="#2050c4" stroke-width="1.0"/>
<path d="M365.20,313.10 L367.80,313.10 L366.50,314.20 Z" fill="#2050c4"/>
<rect x="369.73" y="309.20" width="5.75" height="8.80" fill="#0534ad"/>
<line x1="372.50" y1="302.30" x2="372.50" y2="309.50" stroke="#2050c4" stroke-width="1.0"/>
<line x1="370.90" y1="302.60" x2="374.30" y2="302.60" stroke="#2050c4" stroke-width="1.0"/>
<path d="M371.30,303.00 L373.90,303.00 L372.50,304.10 Z" fill="#2050c4"/>
<line x1="408.50" y1="315.20" x2="408.50" y2="318.30" stroke="#2050c4" stroke-width="1.0"/>
<line x1="407.20" y1="315.50" x2="410.60" y2="315.50" stroke="#2050c4" stroke-width="1.0"/>
<path d="M407.60,315.90 L410.20,315.90 L408.50,317.00 Z" fill="#2050c4"/>
<rect x="411.93" y="317.20" width="5.75" height="0.80" fill="#0534ad"/>
<line x1="414.50" y1="311.30" x2="414.50" y2="317.50" stroke="#2050c4" stroke-width="1.0"/>
<line x1="413.10" y1="311.60" x2="416.50" y2="311.60" stroke="#2050c4" stroke-width="1.0"/>
<path d="M413.50,312.00 L416.10,312.00 L414.50,313.10 Z" fill="#2050c4"/>
<line x1="421.50" y1="314.40" x2="421.50" y2="318.30" stroke="#2050c4" stroke-width="1.0"/>
<line x1="419.40" y1="314.70" x2="422.80" y2="314.70" stroke="#2050c4" stroke-width="1.0"/>
<path d="M419.80,315.10 L422.40,315.10 L421.50,316.20 Z" fill="#2050c4"/>
<rect x="424.12" y="311.20" width="5.75" height="6.80" fill="#0534ad"/>
<line x1="427.50" y1="305.20" x2="427.50" y2="311.50" stroke="#2050c4" stroke-width="1.0"/>
<line x1="425.30" y1="305.50" x2="428.70" y2="305.50" stroke="#2050c4" stroke-width="1.0"/>
<path d="M425.70,305.90 L428.30,305.90 L427.50,307.00 Z" fill="#2050c4"/>
<rect x="460.52" y="317.00" width="5.75" height="1.00" fill="#0534ad"/>
<line x1="463.50" y1="313.30" x2="463.50" y2="317.30" stroke="#2050c4" stroke-width="1.0"/>
<line x1="461.70" y1="313.60" x2="465.10" y2="313.60" stroke="#2050c4" stroke-width="1.0"/>
<path d="M462.10,314.00 L464.70,314.00 L463.50,315.10 Z" fill="#2050c4"/>
<rect x="466.62" y="317.00" width="5.75" height="1.00" fill="#0534ad"/>
<line x1="469.50" y1="313.60" x2="469.50" y2="317.30" stroke="#2050c4" stroke-width="1.0"/>
<line x1="467.80" y1="313.90" x2="471.20" y2="313.90" stroke="#2050c4" stroke-width="1.0"/>
<path d="M468.20,314.30 L470.80,314.30 L469.50,315.40 Z" fill="#2050c4"/>
<rect x="472.73" y="316.20" width="5.75" height="1.80" fill="#0534ad"/>
<line x1="475.50" y1="309.80" x2="475.50" y2="316.50" stroke="#2050c4" stroke-width="1.0"/>
<line x1="473.90" y1="310.10" x2="477.30" y2="310.10" stroke="#2050c4" stroke-width="1.0"/>
<path d="M474.30,310.50 L476.90,310.50 L475.50,311.60 Z" fill="#2050c4"/>
<rect x="478.93" y="317.00" width="5.75" height="1.00" fill="#0534ad"/>
<line x1="481.50" y1="313.30" x2="481.50" y2="317.30" stroke="#2050c4" stroke-width="1.0"/>
<line x1="480.10" y1="313.60" x2="483.50" y2="313.60" stroke="#2050c4" stroke-width="1.0"/>
<path d="M480.50,314.00 L483.10,314.00 L481.50,315.10 Z" fill="#2050c4"/>
<rect x="323.23" y="306.70" width="5.75" height="11.30" fill="#c90016"/>
<line x1="326.50" y1="298.00" x2="326.50" y2="307.00" stroke="#d43446" stroke-width="1.0"/>
<line x1="324.40" y1="298.30" x2="327.80" y2="298.30" stroke="#d43446" stroke-width="1.0"/>
<path d="M324.80,298.70 L327.40,298.70 L326.50,299.80 Z" fill="#d43446"/>
<rect x="329.43" y="299.20" width="5.75" height="18.80" fill="#c90016"/>
<line x1="332.50" y1="287.90" x2="332.50" y2="299.50" stroke="#d43446" stroke-width="1.0"/>
<line x1="330.60" y1="288.20" x2="334.00" y2="288.20" stroke="#d43446" stroke-width="1.0"/>
<path d="M331.00,288.60 L333.60,288.60 L332.50,289.70 Z" fill="#d43446"/>
<rect x="335.52" y="282.90" width="5.75" height="35.10" fill="#c90016"/>
<line x1="338.50" y1="273.70" x2="338.50" y2="283.20" stroke="#d43446" stroke-width="1.0"/>
<line x1="336.70" y1="274.00" x2="340.10" y2="274.00" stroke="#d43446" stroke-width="1.0"/>
<path d="M337.10,274.40 L339.70,274.40 L338.50,275.50 Z" fill="#d43446"/>
<rect x="341.62" y="245.20" width="5.75" height="72.80" fill="#c90016"/>
<line x1="344.50" y1="236.20" x2="344.50" y2="245.50" stroke="#d43446" stroke-width="1.0"/>
<line x1="342.80" y1="236.50" x2="346.20" y2="236.50" stroke="#d43446" stroke-width="1.0"/>
<path d="M343.20,236.90 L345.80,236.90 L344.50,238.00 Z" fill="#d43446"/>
<rect x="377.73" y="306.00" width="5.75" height="12.00" fill="#c90016"/>
<line x1="380.50" y1="297.10" x2="380.50" y2="306.30" stroke="#d43446" stroke-width="1.0"/>
<line x1="378.90" y1="297.40" x2="382.30" y2="297.40" stroke="#d43446" stroke-width="1.0"/>
<path d="M379.30,297.80 L381.90,297.80 L380.50,298.90 Z" fill="#d43446"/>
<rect x="383.82" y="306.30" width="5.75" height="11.70" fill="#c90016"/>
<line x1="386.50" y1="297.10" x2="386.50" y2="306.60" stroke="#d43446" stroke-width="1.0"/>
<line x1="385.00" y1="297.40" x2="388.40" y2="297.40" stroke="#d43446" stroke-width="1.0"/>
<path d="M385.40,297.80 L388.00,297.80 L386.50,298.90 Z" fill="#d43446"/>
<rect x="390.02" y="306.30" width="5.75" height="11.70" fill="#c90016"/>
<line x1="392.50" y1="296.80" x2="392.50" y2="306.60" stroke="#d43446" stroke-width="1.0"/>
<line x1="391.20" y1="297.10" x2="394.60" y2="297.10" stroke="#d43446" stroke-width="1.0"/>
<path d="M391.60,297.50 L394.20,297.50 L392.50,298.60 Z" fill="#d43446"/>
<rect x="395.93" y="286.10" width="5.75" height="31.90" fill="#c90016"/>
<line x1="398.50" y1="272.00" x2="398.50" y2="286.40" stroke="#d43446" stroke-width="1.0"/>
<line x1="397.10" y1="272.30" x2="400.50" y2="272.30" stroke="#d43446" stroke-width="1.0"/>
<path d="M397.50,272.70 L400.10,272.70 L398.50,273.80 Z" fill="#d43446"/>
<rect x="432.62" y="310.40" width="5.75" height="7.60" fill="#c90016"/>
<line x1="435.50" y1="304.10" x2="435.50" y2="310.70" stroke="#d43446" stroke-width="1.0"/>
<line x1="433.80" y1="304.40" x2="437.20" y2="304.40" stroke="#d43446" stroke-width="1.0"/>
<path d="M434.20,304.80 L436.80,304.80 L435.50,305.90 Z" fill="#d43446"/>
<rect x="438.43" y="310.40" width="5.75" height="7.60" fill="#c90016"/>
<line x1="441.50" y1="305.20" x2="441.50" y2="310.70" stroke="#d43446" stroke-width="1.0"/>
<line x1="439.60" y1="305.50" x2="443.00" y2="305.50" stroke="#d43446" stroke-width="1.0"/>
<path d="M440.00,305.90 L442.60,305.90 L441.50,307.00 Z" fill="#d43446"/>
<rect x="444.52" y="310.40" width="5.75" height="7.60" fill="#c90016"/>
<line x1="447.50" y1="304.10" x2="447.50" y2="310.70" stroke="#d43446" stroke-width="1.0"/>
<line x1="445.70" y1="304.40" x2="449.10" y2="304.40" stroke="#d43446" stroke-width="1.0"/>
<path d="M446.10,304.80 L448.70,304.80 L447.50,305.90 Z" fill="#d43446"/>
<rect x="450.62" y="297.10" width="5.75" height="20.90" fill="#c90016"/>
<line x1="453.50" y1="285.30" x2="453.50" y2="297.40" stroke="#d43446" stroke-width="1.0"/>
<line x1="451.80" y1="285.60" x2="455.20" y2="285.60" stroke="#d43446" stroke-width="1.0"/>
<path d="M452.20,286.00 L454.80,286.00 L453.50,287.10 Z" fill="#d43446"/>
<rect x="487.02" y="313.60" width="5.75" height="4.40" fill="#c90016"/>
<line x1="489.50" y1="306.30" x2="489.50" y2="313.90" stroke="#d43446" stroke-width="1.0"/>
<line x1="488.20" y1="306.60" x2="491.60" y2="306.60" stroke="#d43446" stroke-width="1.0"/>
<path d="M488.60,307.00 L491.20,307.00 L489.50,308.10 Z" fill="#d43446"/>
<rect x="492.93" y="313.20" width="5.75" height="4.80" fill="#c90016"/>
<line x1="495.50" y1="307.20" x2="495.50" y2="313.50" stroke="#d43446" stroke-width="1.0"/>
<line x1="494.10" y1="307.50" x2="497.50" y2="307.50" stroke="#d43446" stroke-width="1.0"/>
<path d="M494.50,307.90 L497.10,307.90 L495.50,309.00 Z" fill="#d43446"/>
<rect x="499.02" y="309.30" width="5.75" height="8.70" fill="#c90016"/>
<line x1="501.50" y1="300.90" x2="501.50" y2="309.60" stroke="#d43446" stroke-width="1.0"/>
<line x1="500.20" y1="301.20" x2="503.60" y2="301.20" stroke="#d43446" stroke-width="1.0"/>
<path d="M500.60,301.60 L503.20,301.60 L501.50,302.70 Z" fill="#d43446"/>
<rect x="505.23" y="310.10" width="5.75" height="7.90" fill="#c90016"/>
<line x1="508.50" y1="300.90" x2="508.50" y2="310.40" stroke="#d43446" stroke-width="1.0"/>
<line x1="506.40" y1="301.20" x2="509.80" y2="301.20" stroke="#d43446" stroke-width="1.0"/>
<path d="M506.80,301.60 L509.40,301.60 L508.50,302.70 Z" fill="#d43446"/>
<line x1="288.30" y1="210.60" x2="288.30" y2="319.10" stroke="#111" stroke-width="1.5"/>
<line x1="285.30" y1="211.20" x2="288.30" y2="211.20" stroke="#111" stroke-width="1.1"/>
<text x="282.40" y="214.06" font-size="8.0" text-anchor="end" fill="#111" textLength="12.40" lengthAdjust="spacingAndGlyphs" stroke="#111" stroke-width="0.38">100</text>
<line x1="285.30" y1="232.70" x2="288.30" y2="232.70" stroke="#111" stroke-width="1.1"/>
<text x="282.40" y="235.56" font-size="8.0" text-anchor="end" fill="#111" stroke="#111" stroke-width="0.38">80</text>
<line x1="285.30" y1="254.20" x2="288.30" y2="254.20" stroke="#111" stroke-width="1.1"/>
<text x="282.40" y="257.06" font-size="8.0" text-anchor="end" fill="#111" stroke="#111" stroke-width="0.38">60</text>
<line x1="285.30" y1="275.70" x2="288.30" y2="275.70" stroke="#111" stroke-width="1.1"/>
<text x="282.40" y="278.56" font-size="8.0" text-anchor="end" fill="#111" stroke="#111" stroke-width="0.38">40</text>
<line x1="285.30" y1="297.10" x2="288.30" y2="297.10" stroke="#111" stroke-width="1.1"/>
<text x="282.40" y="299.96" font-size="8.0" text-anchor="end" fill="#111" stroke="#111" stroke-width="0.38">20</text>
<line x1="285.30" y1="318.50" x2="288.30" y2="318.50" stroke="#111" stroke-width="1.1"/>
<text x="282.40" y="321.36" font-size="8.0" text-anchor="end" fill="#111" stroke="#111" stroke-width="0.38">0</text>
<line x1="285.20" y1="318.60" x2="511.80" y2="318.60" stroke="#111" stroke-width="1.3"/>
<line x1="291.50" y1="318.60" x2="291.50" y2="321.80" stroke="#000" stroke-width="1.1"/>
<line x1="300.50" y1="318.60" x2="300.50" y2="321.80" stroke="#000" stroke-width="1.1"/>
<line x1="306.50" y1="318.60" x2="306.50" y2="321.80" stroke="#000" stroke-width="1.1"/>
<line x1="312.50" y1="318.60" x2="312.50" y2="321.80" stroke="#000" stroke-width="1.1"/>
<line x1="318.50" y1="318.60" x2="318.50" y2="321.80" stroke="#000" stroke-width="1.1"/>
<line x1="354.50" y1="318.60" x2="354.50" y2="321.80" stroke="#000" stroke-width="1.1"/>
<line x1="360.50" y1="318.60" x2="360.50" y2="321.80" stroke="#000" stroke-width="1.1"/>
<line x1="366.50" y1="318.60" x2="366.50" y2="321.80" stroke="#000" stroke-width="1.1"/>
<line x1="372.50" y1="318.60" x2="372.50" y2="321.80" stroke="#000" stroke-width="1.1"/>
<line x1="408.50" y1="318.60" x2="408.50" y2="321.80" stroke="#000" stroke-width="1.1"/>
<line x1="414.50" y1="318.60" x2="414.50" y2="321.80" stroke="#000" stroke-width="1.1"/>
<line x1="421.50" y1="318.60" x2="421.50" y2="321.80" stroke="#000" stroke-width="1.1"/>
<line x1="426.50" y1="318.60" x2="426.50" y2="321.80" stroke="#000" stroke-width="1.1"/>
<line x1="463.50" y1="318.60" x2="463.50" y2="321.80" stroke="#000" stroke-width="1.1"/>
<line x1="469.50" y1="318.60" x2="469.50" y2="321.80" stroke="#000" stroke-width="1.1"/>
<line x1="475.50" y1="318.60" x2="475.50" y2="321.80" stroke="#000" stroke-width="1.1"/>
<line x1="481.50" y1="318.60" x2="481.50" y2="321.80" stroke="#000" stroke-width="1.1"/>
<line x1="326.50" y1="318.60" x2="326.50" y2="321.80" stroke="#000" stroke-width="1.1"/>
<line x1="332.50" y1="318.60" x2="332.50" y2="321.80" stroke="#000" stroke-width="1.1"/>
<line x1="338.50" y1="318.60" x2="338.50" y2="321.80" stroke="#000" stroke-width="1.1"/>
<line x1="344.50" y1="318.60" x2="344.50" y2="321.80" stroke="#000" stroke-width="1.1"/>
<line x1="380.50" y1="318.60" x2="380.50" y2="321.80" stroke="#000" stroke-width="1.1"/>
<line x1="386.50" y1="318.60" x2="386.50" y2="321.80" stroke="#000" stroke-width="1.1"/>
<line x1="392.50" y1="318.60" x2="392.50" y2="321.80" stroke="#000" stroke-width="1.1"/>
<line x1="398.50" y1="318.60" x2="398.50" y2="321.80" stroke="#000" stroke-width="1.1"/>
<line x1="435.50" y1="318.60" x2="435.50" y2="321.80" stroke="#000" stroke-width="1.1"/>
<line x1="441.50" y1="318.60" x2="441.50" y2="321.80" stroke="#000" stroke-width="1.1"/>
<line x1="447.50" y1="318.60" x2="447.50" y2="321.80" stroke="#000" stroke-width="1.1"/>
<line x1="453.50" y1="318.60" x2="453.50" y2="321.80" stroke="#000" stroke-width="1.1"/>
<line x1="489.50" y1="318.60" x2="489.50" y2="321.80" stroke="#000" stroke-width="1.1"/>
<line x1="495.50" y1="318.60" x2="495.50" y2="321.80" stroke="#000" stroke-width="1.1"/>
<line x1="501.50" y1="318.60" x2="501.50" y2="321.80" stroke="#000" stroke-width="1.1"/>
<line x1="508.50" y1="318.60" x2="508.50" y2="321.80" stroke="#000" stroke-width="1.1"/>
<text transform="translate(295.00,331.90) rotate(-90)" font-size="7.0" text-anchor="middle" font-weight="bold" fill="#111" textLength="13.70" lengthAdjust="spacingAndGlyphs" stroke="#111" stroke-width="0.3">VEN</text>
<path d="M299.00,331.70 L299.00,330.50 L319.00,326.60 L319.00,331.70 Z" fill="#1f0898"/>
<path d="M325.25,331.70 L325.25,330.50 L345.00,326.60 L345.00,331.70 Z" fill="#1f0898"/>
<path d="M353.50,331.70 L353.50,330.50 L373.50,326.60 L373.50,331.70 Z" fill="#1f0898"/>
<path d="M379.40,331.70 L379.40,330.50 L399.40,326.60 L399.40,331.70 Z" fill="#1f0898"/>
<path d="M407.75,331.70 L407.75,330.50 L427.10,326.60 L427.10,331.70 Z" fill="#1f0898"/>
<path d="M434.00,331.70 L434.00,330.50 L454.00,326.60 L454.00,331.70 Z" fill="#1f0898"/>
<path d="M462.75,331.70 L462.75,330.50 L481.90,326.60 L481.90,331.70 Z" fill="#1f0898"/>
<path d="M488.50,331.70 L488.50,330.50 L508.10,326.60 L508.10,331.70 Z" fill="#1f0898"/>
<text x="302.50" y="340.30" font-size="7.0" text-anchor="start" fill="#111" textLength="41.00" lengthAdjust="spacingAndGlyphs" stroke="#111" stroke-width="0.38">BMS345541</text>
<text x="369.10" y="340.30" font-size="7.0" text-anchor="start" fill="#111" textLength="14.90" lengthAdjust="spacingAndGlyphs" stroke="#111" stroke-width="0.38">MI-2</text>
<text x="411.00" y="340.30" font-size="7.0" text-anchor="start" fill="#111" textLength="40.50" lengthAdjust="spacingAndGlyphs" stroke="#111" stroke-width="0.38">Bortezomib</text>
<text x="462.75" y="340.30" font-size="7.0" text-anchor="start" fill="#111" textLength="45.00" lengthAdjust="spacingAndGlyphs" stroke="#111" stroke-width="0.38">Pevonedistat</text>
<line x1="299.40" y1="343.80" x2="321.90" y2="343.80" stroke="#080808" stroke-width="1.4"/>
<line x1="324.40" y1="343.80" x2="345.90" y2="343.80" stroke="#080808" stroke-width="1.4"/>
<line x1="353.75" y1="343.80" x2="375.00" y2="343.80" stroke="#080808" stroke-width="1.4"/>
<line x1="378.10" y1="343.80" x2="399.75" y2="343.80" stroke="#080808" stroke-width="1.4"/>
<line x1="408.50" y1="343.80" x2="430.00" y2="343.80" stroke="#080808" stroke-width="1.4"/>
<line x1="432.75" y1="343.80" x2="454.00" y2="343.80" stroke="#080808" stroke-width="1.4"/>
<line x1="461.90" y1="343.80" x2="482.75" y2="343.80" stroke="#080808" stroke-width="1.4"/>
<line x1="486.50" y1="343.80" x2="507.75" y2="343.80" stroke="#080808" stroke-width="1.4"/>
<text x="300.25" y="352.50" font-size="7.4" text-anchor="start" font-weight="bold" fill="#111" textLength="22.25" lengthAdjust="spacingAndGlyphs" stroke="#111" stroke-width="0.1">DMSO</text>
<text x="328.75" y="352.50" font-size="7.4" text-anchor="start" font-weight="bold" fill="#111" textLength="14.15" lengthAdjust="spacingAndGlyphs" stroke="#111" stroke-width="0.1">VEN</text>
<text x="353.75" y="352.50" font-size="7.4" text-anchor="start" font-weight="bold" fill="#111" textLength="22.25" lengthAdjust="spacingAndGlyphs" stroke="#111" stroke-width="0.1">DMSO</text>
<text x="380.60" y="352.50" font-size="7.4" text-anchor="start" font-weight="bold" fill="#111" textLength="15.00" lengthAdjust="spacingAndGlyphs" stroke="#111" stroke-width="0.1">VEN</text>
<text x="409.40" y="352.50" font-size="7.4" text-anchor="start" font-weight="bold" fill="#111" textLength="22.10" lengthAdjust="spacingAndGlyphs" stroke="#111" stroke-width="0.1">DMSO</text>
<text x="436.25" y="352.50" font-size="7.4" text-anchor="start" font-weight="bold" fill="#111" textLength="14.35" lengthAdjust="spacingAndGlyphs" stroke="#111" stroke-width="0.1">VEN</text>
<text x="462.75" y="352.50" font-size="7.4" text-anchor="start" font-weight="bold" fill="#111" textLength="22.25" lengthAdjust="spacingAndGlyphs" stroke="#111" stroke-width="0.1">DMSO</text>
<text x="490.00" y="352.50" font-size="7.4" text-anchor="start" font-weight="bold" fill="#111" textLength="14.40" lengthAdjust="spacingAndGlyphs" stroke="#111" stroke-width="0.1">VEN</text>
<rect x="0.5" y="0.6" width="518.7" height="358.6" fill="none" stroke="#000" stroke-width="1.4"/>
</svg>
</body></html>
